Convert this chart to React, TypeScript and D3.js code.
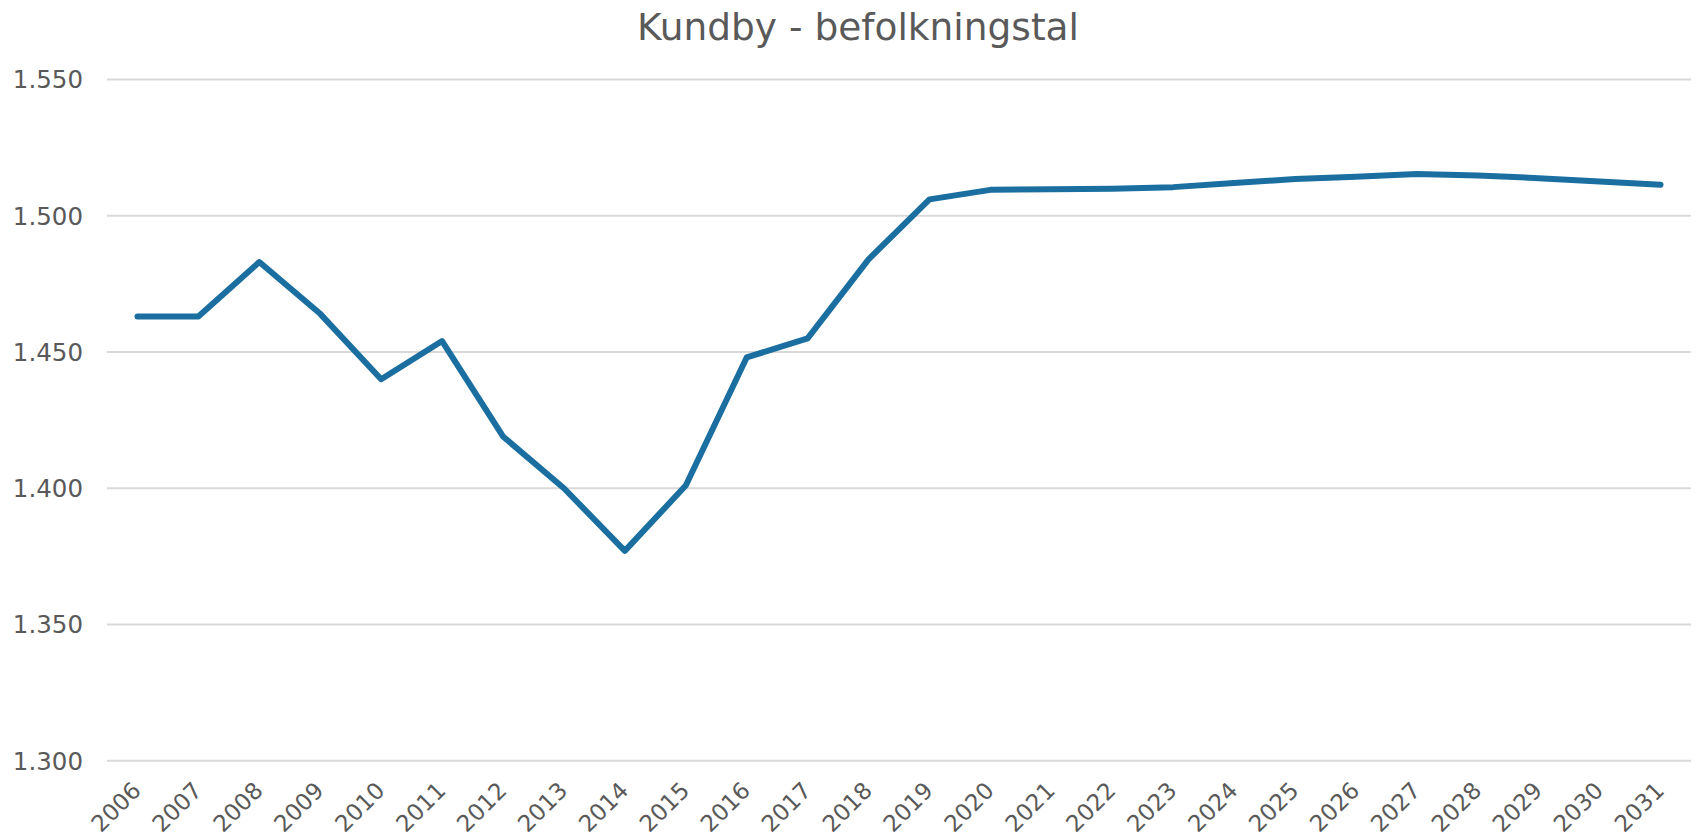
import React from "react";
import * as d3 from "d3";

const years = [
  "2006", "2007", "2008", "2009", "2010", "2011", "2012", "2013", "2014",
  "2015", "2016", "2017", "2018", "2019", "2020", "2021", "2022", "2023",
  "2024", "2025", "2026", "2027", "2028", "2029", "2030", "2031",
];
const population = [
  1463, 1463, 1483, 1464, 1440, 1454, 1419, 1400, 1377, 1401, 1448, 1455,
  1484, 1506, 1509.5, 1509.7, 1509.9, 1510.5, 1512, 1513.5, 1514.3, 1515.3,
  1514.8, 1513.8, 1512.6, 1511.4,
];
const yTicks = [1300, 1350, 1400, 1450, 1500, 1550];
const title = "Kundby - befolkningstal";

const width = 1696;
const height = 840;
const font = "'DejaVu Sans', Verdana, sans-serif";
const textColor = "#595959";

const da = d3.formatLocale({
  decimal: ",",
  thousands: ".",
  grouping: [3],
  currency: ["", " kr."],
});
const fmt = da.format(",d");

const App = () => {
  const x = d3.scalePoint<string>().domain(years).range([107, 1691]).padding(0.5);
  const y = d3.scaleLinear().domain([1300, 1550]).range([760.7, 79.5]);

  const line = d3
    .line<number>()
    .x((d, i) => x(years[i]) as number)
    .y((d) => y(d));

  return (
    <svg
      width={width}
      height={height}
      style={{ position: "absolute", left: 0, top: 0, background: "#fff" }}
      fontFamily={font}
    >
      <rect width={width} height={height} fill="#fff" />
      <text x={858} y={40} textAnchor="middle" fontSize={37.5} fill={textColor}>
        {title}
      </text>

      {/* gridlines + y labels */}
      {yTicks.map((t) => (
        <g key={t}>
          <line x1={107} x2={1691} y1={y(t)} y2={y(t)} stroke="#d9d9d9" strokeWidth={2} />
          <text
            x={83}
            y={y(t)}
            dy="0.36em"
            textAnchor="end"
            fontSize={24.5}
            fill={textColor}
          >
            {fmt(t)}
          </text>
        </g>
      ))}

      {/* x labels, rotated */}
      {years.map((yr) => {
        const px = (x(yr) as number) + 5;
        const py = 792;
        return (
          <text
            key={yr}
            transform={`translate(${px},${py}) rotate(-45)`}
            textAnchor="end"
            fontSize={23}
            fill={textColor}
          >
            {yr}
          </text>
        );
      })}

      <path
        d={line(population) || ""}
        fill="none"
        stroke="#1a6fa0"
        strokeWidth={6}
        strokeLinecap="round"
        strokeLinejoin="round"
      />
    </svg>
  );
};

export default App;
